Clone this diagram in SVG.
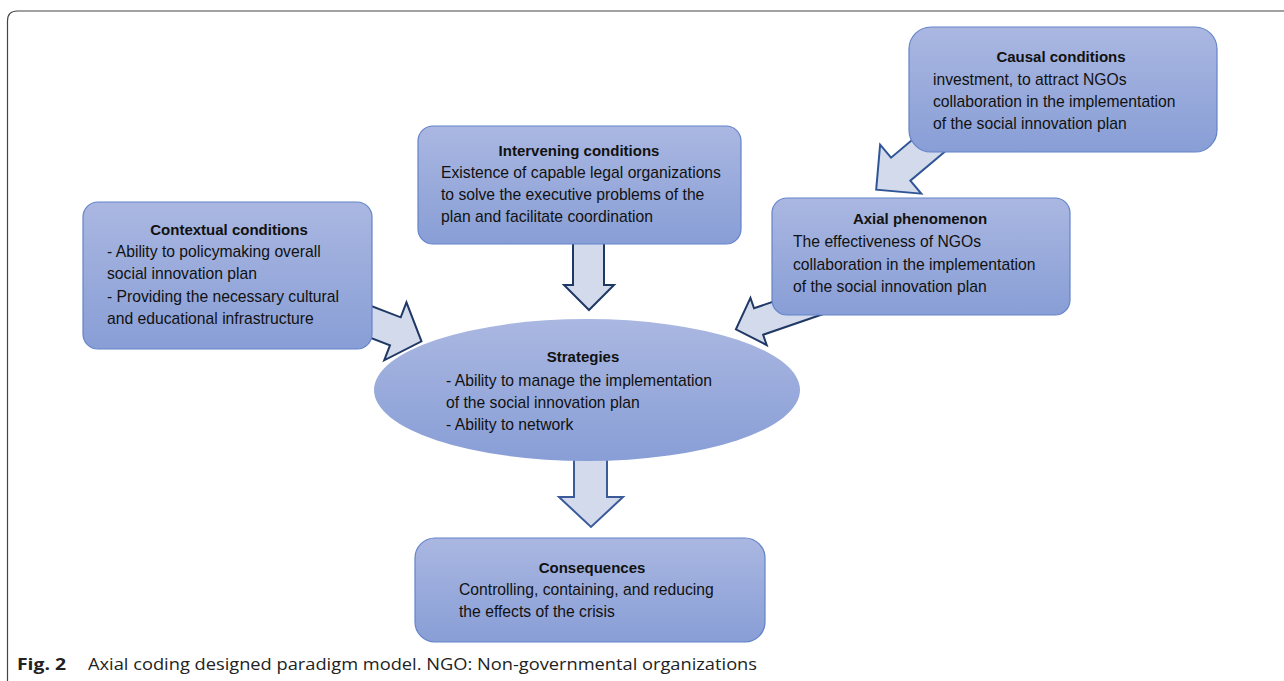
<svg xmlns="http://www.w3.org/2000/svg" width="1284" height="681" viewBox="0 0 1284 681">
<defs>
<linearGradient id="g" x1="0" y1="0" x2="0" y2="1">
<stop offset="0" stop-color="#aab7e1"/>
<stop offset="1" stop-color="#889ed6"/>
</linearGradient>
<style>
.box{fill:url(#g);stroke:#6483c9;stroke-width:1.2}
.arr{fill:#d3daec;stroke:#1f3864;stroke-width:2;stroke-linejoin:miter}
.t{font-family:"Liberation Sans",Arial,sans-serif;font-size:15.7px;fill:#111}
.b{font-family:"Liberation Sans",Arial,sans-serif;font-size:15px;font-weight:bold;fill:#111;text-anchor:middle}
.cap{font-family:"Open Sans","Liberation Sans",sans-serif;font-size:16px;fill:#222}
</style>
</defs>
<rect width="1284" height="681" fill="#fff"/>
<path d="M7.5,681 V21 Q7.5,11 17.5,11 H1284" fill="none" stroke="#444" stroke-width="1.2"/>
<g id="connectors">
<polygon class="arr" style="stroke:#2f5597" transform="translate(939,137) rotate(140)" points="0,-15 50,-15 50,-32 82,0 50,32 50,15 0,15"/>
<polygon class="arr" points="573,240 604,240 604,285 614,285 589,310 564,285 573,285"/>
<polygon class="arr" transform="translate(358,317) rotate(21)" points="0,-15 40,-15 40,-31 68,0 40,31 40,15 0,15"/>
<polygon class="arr" transform="translate(821,300) rotate(161)" points="0,-14 66,-14 66,-25 90,0 66,25 66,14 0,14"/>
<polygon class="arr" style="stroke:#3b5a9a" points="574,450 607,450 607,497 623,497 591,527 559,497 574,497"/>
</g>
<g id="causal">
<rect class="box" x="909" y="27" width="308" height="125" rx="22"/>
<text class="b" x="1061" y="62">Causal conditions</text>
<text class="t" x="933" y="85">investment, to attract NGOs</text>
<text class="t" x="933" y="107">collaboration in the implementation</text>
<text class="t" x="933" y="129">of the social innovation plan</text>
</g>
<g id="intervening">
<rect class="box" x="418" y="126" width="323" height="118" rx="15"/>
<text class="b" x="579" y="156">Intervening conditions</text>
<text class="t" x="441" y="178">Existence of capable legal organizations</text>
<text class="t" x="441" y="200">to solve the executive problems of the</text>
<text class="t" x="441" y="222">plan and facilitate coordination</text>
</g>
<g id="contextual">
<rect class="box" x="83" y="202" width="289" height="147" rx="15"/>
<text class="b" x="229" y="235">Contextual conditions</text>
<text class="t" x="107" y="257">- Ability to policymaking overall</text>
<text class="t" x="107" y="279">social innovation plan</text>
<text class="t" x="107" y="302">- Providing the necessary cultural</text>
<text class="t" x="107" y="324">and educational infrastructure</text>
</g>
<g id="axial">
<rect class="box" x="772" y="198" width="298" height="117" rx="15"/>
<text class="b" x="920" y="224">Axial phenomenon</text>
<text class="t" x="793" y="247">The effectiveness of NGOs</text>
<text class="t" x="793" y="270">collaboration in the implementation</text>
<text class="t" x="793" y="292">of the social innovation plan</text>
</g>
<g id="strategies">
<ellipse cx="587" cy="390" rx="213" ry="71" fill="url(#g)"/>
<text class="b" x="583" y="362">Strategies</text>
<text class="t" x="446" y="386">- Ability to manage the implementation</text>
<text class="t" x="446" y="408">of the social innovation plan</text>
<text class="t" x="446" y="430">- Ability to network</text>
</g>
<g id="consequences">
<rect class="box" x="415" y="538" width="350" height="104" rx="20"/>
<text class="b" x="592" y="573">Consequences</text>
<text class="t" x="459" y="595">Controlling, containing, and reducing</text>
<text class="t" x="459" y="617">the effects of the crisis</text>
</g>
<g id="caption">
<text class="cap" x="17" y="670" style="font-weight:bold" textLength="49" lengthAdjust="spacingAndGlyphs">Fig. 2</text>
<text class="cap" x="88" y="670" textLength="669" lengthAdjust="spacingAndGlyphs">Axial coding designed paradigm model. NGO: Non-governmental organizations</text>
</g>
</svg>
